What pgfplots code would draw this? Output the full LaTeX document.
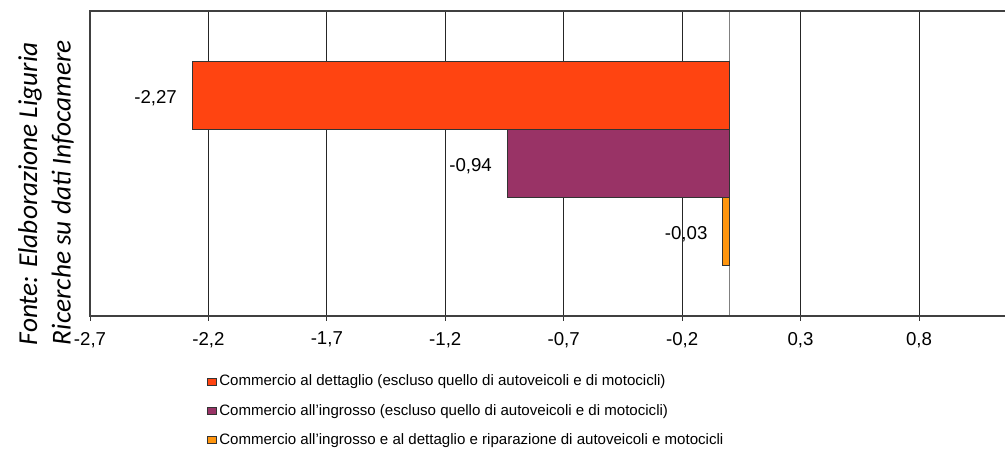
\documentclass[border=0pt]{standalone}
\usepackage{fontspec}
\setmainfont{Liberation Sans}
\newfontfamily\carlito{Carlito}
\usepackage{pgfplots}
\pgfplotsset{compat=1.18}
\usetikzlibrary{calc}

\definecolor{cRed}{HTML}{FF4411}
\definecolor{cPurple}{HTML}{993366}
\definecolor{cOrange}{HTML}{FF950E}

\begin{document}
\begin{tikzpicture}
\begin{axis}[
    scale only axis,
    width=686.25pt, height=228.75pt,
    xmin=-2.7, xmax=1.163,
    ymin=-1.5, ymax=1.5,
    xbar, bar width=0.669, bar shift=0pt,
    axis line style={draw=none},
    xtick={-2.7,-2.2,-1.7,-1.2,-0.7,-0.2,0.3,0.8},
    xtick pos=bottom,
    ytick=\empty,
    tick align=outside,
    major tick length=3.5pt,
    tick style={black!80, line width=0.6pt},
    xmajorgrids,
    grid style={black!85, line width=0.6pt},
    extra x ticks={0},
    extra x tick labels={},
    extra x tick style={grid style={gray, line width=1pt}, major tick length=0pt},
    /pgf/number format/assume math mode=true,
    xticklabel style={font=\fontsize{14}{16}\selectfont, yshift=-5pt, /pgf/number format/.cd, fixed, precision=1, use comma},
    point meta=x,
    nodes near coords,
    nodes near coords style={font=\fontsize{14}{16}\selectfont, anchor=east, xshift=-11pt, yshift=-2pt, inner sep=0pt,
        /pgf/number format/.cd, fixed, fixed zerofill, precision=2, use comma},
    legend style={at={(0.128,0)}, anchor=north west, yshift=-42pt, draw=none,
        font=\fontsize{11.3}{13}\selectfont, cells={anchor=west}, row sep=8.3pt, inner sep=0pt},
    legend image code/.code={\draw[#1, draw=black!80, line width=0.4pt] (0pt,-2.6pt) rectangle (6.5pt,2.6pt);},
    clip=false,
]
\addplot[fill=cRed, draw=black!80, line width=0.5pt] coordinates {(-2.27,0.669)};
\addlegendentry{Commercio al dettaglio (escluso quello di autoveicoli e di motocicli)}
\addplot[fill=cPurple, draw=black!80, line width=0.5pt] coordinates {(-0.94,0)};
\addlegendentry{Commercio all'ingrosso (escluso quello di autoveicoli e di motocicli)}
\addplot[fill=cOrange, draw=black!80, line width=0.5pt] coordinates {(-0.03,-0.669)};
\addlegendentry{Commercio all'ingrosso e al dettaglio e riparazione di autoveicoli e motocicli}
\coordinate (sw) at (rel axis cs:0,0);
\coordinate (ne) at (rel axis cs:1,1);
\end{axis}
% axis frame: left, top and bottom only
\draw[black!75, line width=1.6pt, line cap=rect] (ne) -- (sw|-ne) -- (sw) -- (ne|-sw);
\node[rotate=90, anchor=south west, align=left, inner sep=0pt, font=\carlito\itshape\fontsize{20.5}{25}\selectfont]
    at ($(sw)+(-12pt,-22pt)$) {Fonte: Elaborazione Liguria\\Ricerche su dati Infocamere};
\pgfresetboundingbox
\path[use as bounding box] ($(sw)+(-67.5pt,-101.25pt)$) rectangle ($(ne)+(0,8.25pt)$);
\end{tikzpicture}
\end{document}
